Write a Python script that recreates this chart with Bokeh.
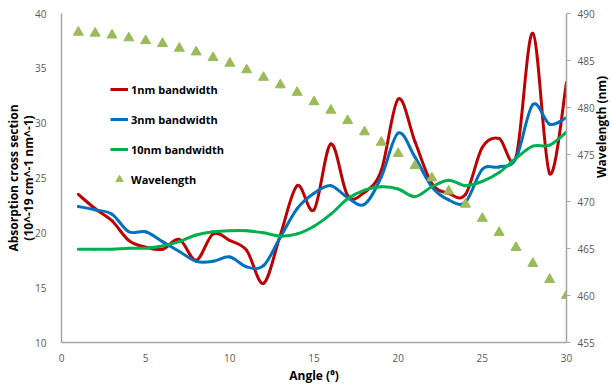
import math
from bokeh.plotting import figure
from bokeh.models import (Range1d, LinearAxis, Legend, LegendItem,
                          SingleIntervalTicker, ColumnDataSource)
from bokeh.embed import file_html
from bokeh.resources import INLINE

# ---------------- data ----------------
angle = list(range(1, 31))
bw_1nm = [23.5, 22.2, 21.1, 19.3, 18.7, 18.5, 19.4, 17.5, 19.9, 19.3,
          18.4, 15.4, 19.8, 24.3, 22.1, 28.1, 23.4, 23.7, 25.7, 32.2,
          28.3, 24.5, 23.6, 23.5, 27.8, 28.6, 26.9, 38.2, 25.4, 33.7]
bw_3nm = [22.4, 22.1, 21.7, 20.1, 20.1, 19.2, 18.3, 17.4, 17.4, 17.8,
          16.9, 17.0, 19.6, 22.2, 23.6, 24.3, 23.2, 22.6, 25.1, 29.1,
          26.9, 24.2, 23.0, 22.8, 25.8, 26.0, 26.8, 31.7, 29.9, 30.5]
bw_10nm = [18.5, 18.5, 18.5, 18.6, 18.6, 18.8, 19.2, 19.8, 20.1, 20.2,
           20.2, 20.0, 19.7, 19.9, 20.6, 21.7, 23.1, 23.9, 24.2, 24.0,
           23.3, 24.2, 24.8, 24.3, 24.7, 25.5, 26.8, 27.9, 28.0, 29.2]
wavelength = [488.0, 487.9, 487.7, 487.4, 487.1, 486.8, 486.3, 485.9, 485.3, 484.7,
              484.0, 483.2, 482.4, 481.6, 480.6, 479.7, 478.6, 477.4, 476.3, 475.1,
              473.8, 472.5, 471.1, 469.7, 468.2, 466.7, 465.1, 463.4, 461.7, 460.0]

series_labels = ["1nm bandwidth", "3nm bandwidth", "10nm bandwidth", "Wavelength"]
series_colors = ["#C00000", "#0070C0", "#00B050", "#9BBB59"]
x_title = "Angle (\u2070)"
y_title = "Absorption cross section\n(10^-19 cm^-1 nm^-1)"
y2_title = "Wavelength (nm)"


def smooth_segments(xs, ys):
    """Bezier control points for a smoothed (Excel-style) line through the data."""
    n = len(xs)
    d = dict(x0=[], y0=[], x1=[], y1=[], cx0=[], cy0=[], cx1=[], cy1=[])
    for i in range(n - 1):
        xp, yp = (xs[i - 1], ys[i - 1]) if i > 0 else (xs[i], ys[i])
        xn, yn = (xs[i + 2], ys[i + 2]) if i + 2 < n else (xs[i + 1], ys[i + 1])
        d["x0"].append(xs[i]); d["y0"].append(ys[i])
        d["x1"].append(xs[i + 1]); d["y1"].append(ys[i + 1])
        d["cx0"].append(xs[i] + (xs[i + 1] - xp) / 6.0)
        d["cy0"].append(ys[i] + (ys[i + 1] - yp) / 6.0)
        d["cx1"].append(xs[i + 1] - (xn - xs[i]) / 6.0)
        d["cy1"].append(ys[i + 1] - (yn - ys[i]) / 6.0)
    return ColumnDataSource(d)


FONT = "Open Sans"

p = figure(width=622, height=389,
           x_range=Range1d(0, 30), y_range=Range1d(10, 40),
           output_backend="svg", toolbar_location=None,
           min_border_left=61, min_border_right=56,
           min_border_top=13, min_border_bottom=47)
p.extra_y_ranges = {"wl": Range1d(455, 490)}
p.grid.visible = False
p.outline_line_color = None
p.background_fill_color = "white"
p.border_fill_color = "white"

left = p.left[0]
bottom = p.below[0]
right = LinearAxis(y_range_name="wl")
p.add_layout(right, "right")

bottom.ticker = SingleIntervalTicker(interval=5)
left.ticker = SingleIntervalTicker(interval=5)
right.ticker = SingleIntervalTicker(interval=5)

bottom.axis_label = x_title
left.axis_label = y_title
right.axis_label = y2_title

for ax in (left, bottom, right):
    ax.axis_line_color = "#A6A6A6"
    ax.axis_line_width = 1.5
    ax.minor_tick_line_color = None
    ax.major_label_text_font = FONT
    ax.major_label_text_font_size = "10px"
    ax.major_label_text_color = "#595959"
    ax.axis_label_text_font = FONT
    ax.axis_label_text_font_size = "12px"
    ax.axis_label_text_font_style = "bold"
    ax.axis_label_text_color = "#000000"

left.major_tick_line_color = None
left.major_tick_out = 0
left.major_label_standoff = 11
left.axis_label_standoff = -5
left.axis_label_text_line_height = 0.9

bottom.major_tick_line_color = None
bottom.major_tick_out = 0
bottom.major_label_standoff = 7
bottom.axis_label_standoff = 2

right.major_tick_line_color = "#A6A6A6"
right.major_tick_out = 4
right.major_tick_in = 0
right.major_label_standoff = 7
right.axis_label_standoff = 4
try:
    right.axis_label_orientation = math.pi / 2
except Exception:
    pass

# smoothed curves
legend_renderers = []
for ys, col in zip([bw_1nm, bw_3nm, bw_10nm], series_colors[:3]):
    src = smooth_segments(angle, ys)
    p.bezier(x0="x0", y0="y0", x1="x1", y1="y1", cx0="cx0", cy0="cy0",
             cx1="cx1", cy1="cy1", source=src, line_color=col, line_width=3,
             line_cap="round")
    # single-point line (draws nothing in the plot) used for the legend swatch
    legend_renderers.append(p.line(x=angle[:1], y=ys[:1], line_color=col, line_width=3))

tri = p.scatter(angle, wavelength, marker="triangle", size=10,
                fill_color=series_colors[3], line_color=series_colors[3],
                y_range_name="wl")
legend_renderers.append(tri)

legend = Legend(items=[LegendItem(label=l, renderers=[r])
                       for l, r in zip(series_labels, legend_renderers)],
                location=(49, 153))
legend.background_fill_alpha = 0
legend.border_line_color = None
legend.padding = 0
legend.margin = 0
legend.spacing = 10
legend.glyph_width = 18
legend.glyph_height = 20
legend.label_height = 20
legend.label_standoff = 3
legend.label_text_font = FONT
legend.label_text_font_size = "11px"
legend.label_text_font_style = "bold"
legend.label_text_color = "#000000"
p.add_layout(legend)

open("out.html", "w").write(file_html(p, INLINE))
